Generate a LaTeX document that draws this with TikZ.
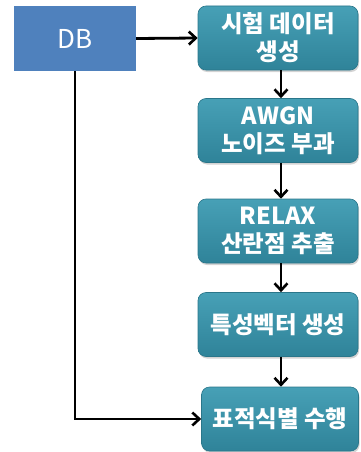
\documentclass[tikz,border=0pt]{standalone}
\usepackage{fontspec}
\newfontfamily\kr{Noto Sans CJK KR}
\usetikzlibrary{arrows.meta,shadows}
\definecolor{dbblue}{HTML}{4F81BD}
\definecolor{tealtop}{HTML}{47A0B6}
\definecolor{tealbot}{HTML}{2F8399}
\tikzset{
  stepbox/.style={rounded corners=8pt, minimum width=160pt, minimum height=64pt,
    top color=tealtop, bottom color=tealbot, draw=tealbot!90!black, line width=0.6pt,
    drop shadow={shadow xshift=1pt, shadow yshift=-2pt, opacity=0.35},
    text=white, align=center, font=\kr\bfseries\fontsize{23.5}{28}\selectfont, inner sep=2pt},
  dbbox/.style={fill=dbblue, minimum width=122pt, minimum height=65pt, text=white,
    font=\kr\fontsize{26}{30}\selectfont},
  conn/.style={line width=2.8pt, -{Straight Barb[length=7pt,width=13pt,line width=2.6pt]}}
}
\begin{document}
\begin{tikzpicture}[x=1pt,y=-1pt]
\useasboundingbox (0,0) rectangle (361,452);
\node[dbbox] (db) at (75,38.5) {DB};
\node[stepbox] (s1) at (278,38) {시험 데이터\\생성};
\node[stepbox] (s2) at (278,130.5) {AWGN\\노이즈 부과};
\node[stepbox] (s3) at (278,231) {RELAX\\산란점 추출};
\node[stepbox] (s4) at (278,324.5) {특성벡터 생성};
\node[stepbox, minimum width=157pt] (s5) at (280,419) {표적식별 수행};
\coordinate (corner) at (db.south |- s5.west);
\draw[conn] (db.east) -- (s1.west);
\draw[conn] (s1.south -| 281,0) -- (s2.north -| 281,0);
\draw[conn] (s2.south -| 281,0) -- (s3.north -| 281,0);
\draw[conn] (s3.south -| 281,0) -- (s4.north -| 281,0);
\draw[conn] (s4.south -| 281,0) -- (s5.north -| 281,0);
\draw[conn] (db.south) -- (corner) -- (s5.west);
\end{tikzpicture}
\end{document}
